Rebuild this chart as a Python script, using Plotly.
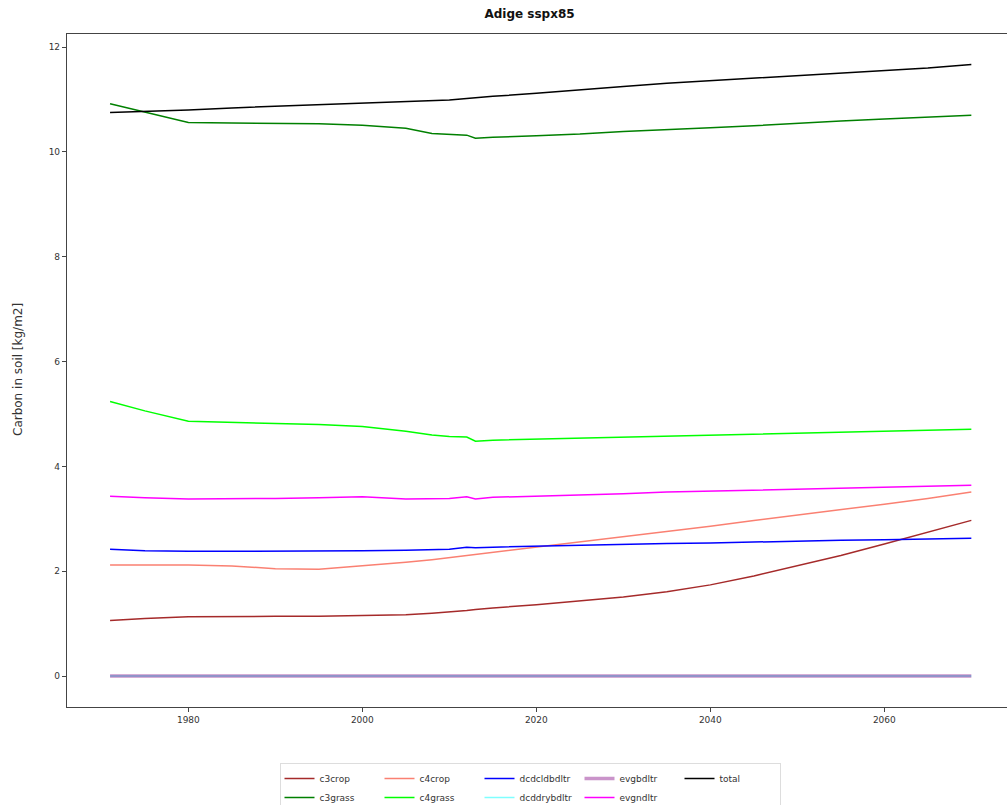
import plotly.graph_objects as go

# Sampled years and soil carbon per plant functional type (kg/m2)
years = [1971, 1975, 1980, 1985, 1990, 1995, 2000, 2005, 2008, 2010, 2012, 2013,
         2015, 2020, 2025, 2030, 2035, 2040, 2045, 2050, 2055, 2060, 2065, 2070]

c3crop = [1.06, 1.10, 1.13, 1.14, 1.14, 1.14, 1.15, 1.17, 1.20, 1.22, 1.25, 1.27,
          1.30, 1.36, 1.43, 1.51, 1.61, 1.74, 1.91, 2.10, 2.30, 2.52, 2.74, 2.97]
c3grass = [10.92, 10.76, 10.56, 10.55, 10.55, 10.54, 10.51, 10.45, 10.35, 10.34, 10.32, 10.26,
           10.28, 10.31, 10.34, 10.39, 10.42, 10.46, 10.50, 10.55, 10.59, 10.63, 10.66, 10.70]
c4crop = [2.12, 2.12, 2.12, 2.10, 2.05, 2.04, 2.10, 2.17, 2.22, 2.26, 2.30, 2.32,
          2.36, 2.45, 2.55, 2.66, 2.76, 2.86, 2.97, 3.07, 3.17, 3.28, 3.39, 3.51]
c4grass = [5.24, 5.06, 4.86, 4.84, 4.83, 4.80, 4.76, 4.67, 4.60, 4.57, 4.56, 4.48,
           4.50, 4.52, 4.54, 4.56, 4.58, 4.59, 4.62, 4.64, 4.66, 4.68, 4.70, 4.71]
dcdcldbdltr = [2.42, 2.39, 2.38, 2.38, 2.38, 2.38, 2.39, 2.40, 2.41, 2.42, 2.46, 2.45,
               2.46, 2.48, 2.49, 2.51, 2.53, 2.54, 2.56, 2.58, 2.59, 2.60, 2.61, 2.63]
dcddrybdltr = [0.0] * len(years)
evgbdltr = [0.0] * len(years)
evgndltr = [3.43, 3.40, 3.38, 3.38, 3.39, 3.40, 3.42, 3.38, 3.38, 3.39, 3.42, 3.38,
            3.41, 3.43, 3.45, 3.48, 3.51, 3.53, 3.55, 3.57, 3.59, 3.60, 3.62, 3.64]
total = [10.75, 10.77, 10.80, 10.84, 10.87, 10.90, 10.93, 10.96, 10.98, 10.99, 11.02, 11.03,
         11.06, 11.12, 11.19, 11.25, 11.31, 11.36, 11.41, 11.46, 11.51, 11.55, 11.60, 11.67]

x_ticks = [1980, 2000, 2020, 2040, 2060]
y_ticks = [0, 2, 4, 6, 8, 10, 12]

# (name, values, colour, legend column, width, opacity)
series = [
    ("c3crop", c3crop, "#a52a2a", "g1", 1.5, 1.0),
    ("c3grass", c3grass, "#008000", "g1", 1.5, 1.0),
    ("c4crop", c4crop, "#fa8072", "g2", 1.5, 1.0),
    ("c4grass", c4grass, "#00ff00", "g2", 1.5, 1.0),
    ("dcdcldbdltr", dcdcldbdltr, "#0000ff", "g3", 1.5, 1.0),
    ("dcddrybdltr", dcddrybdltr, "#00ffff", "g3", 1.5, 0.5),
    ("evgbdltr", evgbdltr, "#800080", "g4", 3.5, 0.42),
    ("evgndltr", evgndltr, "#ff00ff", "g4", 1.5, 1.0),
    ("total", total, "#000000", "g5", 1.5, 1.0),
]

fig = go.Figure()
for name, vals, color, grp, w, op in series:
    fig.add_trace(go.Scatter(
        x=years, y=vals, mode="lines", name=name,
        line=dict(color=color, width=w), opacity=op,
        legendgroup=grp,
    ))

axis_font = dict(family="DejaVu Sans", size=9, color="#333333")

fig.update_layout(
    width=1007, height=805,
    margin=dict(l=67, r=0, t=34, b=98),
    paper_bgcolor="white", plot_bgcolor="white",
    title=dict(text="<b>Adige sspx85</b>", x=529.5 / 1007, xref="container",
               xanchor="center", y=1 - 14 / 805, yanchor="middle",
               font=dict(family="DejaVu Sans", size=12, color="#111111")),
    showlegend=True,
    legend=dict(orientation="h", traceorder="grouped", tracegroupgap=0,
                entrywidth=55, entrywidthmode="pixels",
                x=530 / 1007, xanchor="center", xref="container",
                y=1 - 763 / 805, yanchor="top", yref="container",
                bordercolor="#dddddd", borderwidth=1, bgcolor="white",
                font=dict(family="DejaVu Sans", size=9, color="#333333")),
    xaxis=dict(range=[1966.05, 2074.1], tickvals=x_ticks, showgrid=False, zeroline=False,
               showline=True, linecolor="#444444", linewidth=1.2, mirror=True,
               ticks="outside", ticklen=4, tickcolor="#444444", tickfont=axis_font),
    yaxis=dict(range=[-0.59, 12.25], tickvals=y_ticks, showgrid=False, zeroline=False,
               showline=True, linecolor="#444444", linewidth=1.2,
               ticks="outside", ticklen=4, tickcolor="#444444", tickfont=axis_font),
    annotations=[dict(text="Carbon in soil [kg/m2]", textangle=-90,
                      xref="paper", yref="paper", x=(18 - 67) / 940, y=(707 - 370) / 673,
                      xanchor="center", yanchor="middle", showarrow=False,
                      font=dict(family="DejaVu Sans", size=12, color="#333333"))],
)

fig.write_html("out.html")
